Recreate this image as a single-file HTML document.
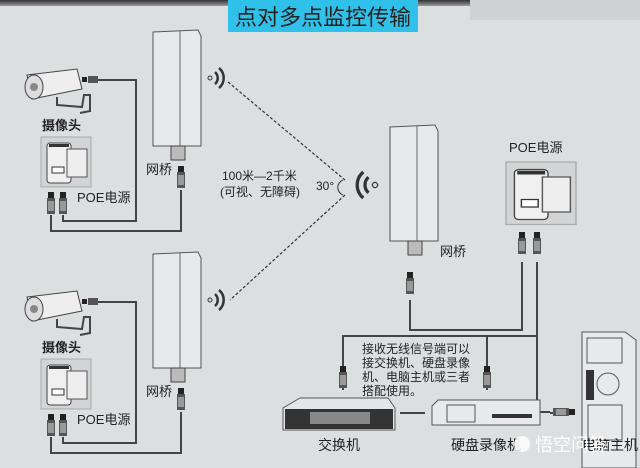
<!DOCTYPE html>
<html><head><meta charset="utf-8"><style>
body{margin:0;width:640px;height:468px;overflow:hidden;background:#dcdfe0;}
svg{display:block}
text{font-family:"Liberation Sans","Noto Sans CJK SC",sans-serif;fill:#222}
</style></head><body>
<svg width="640" height="468" viewBox="0 0 640 468" xmlns="http://www.w3.org/2000/svg">
<defs>
<linearGradient id="top" x1="0" y1="0" x2="0" y2="1"><stop offset="0" stop-color="#333"/><stop offset="1" stop-color="#9a9c9e"/></linearGradient>
<g id="plug"><rect x="-3" y="0" width="6" height="6" fill="#222"/><rect x="-4" y="6" width="8" height="16" fill="#555"/><rect x="-3" y="9" width="6" height="10" fill="#999"/></g>
<g id="bridge">
<path d="M0 2 L45 0 L48 6 L48 116 L0 116 Z" fill="#e8e9ea" stroke="#555" stroke-width="1"/>
<line x1="27" y1="1" x2="27" y2="116" stroke="#666"/>
<rect x="18" y="116" width="14" height="14" fill="#bbb" stroke="#444"/>
</g>
<g id="wifi" fill="none" stroke="#333" stroke-width="2.5"><circle cx="0" cy="0" r="2" stroke-width="1"/><path d="M5 -6 A8 8 0 0 1 5 6"/><path d="M9 -10 A13 13 0 0 1 9 10"/></g>
<g id="cam">
<path d="M5 8 L55 2 L60 22 L10 32 Z" fill="#eee" stroke="#444"/>
<ellipse cx="12" cy="20" rx="9" ry="12" fill="#ddd" stroke="#444"/>
<circle cx="12" cy="20" r="4" fill="#888"/>
<path d="M35 30 L35 38 L60 40 L62 28 L68 28 L68 44 L58 46" fill="none" stroke="#444" stroke-width="2"/>
<rect x="60" y="10" width="5" height="5" fill="#222"/><rect x="66" y="9" width="10" height="7" fill="#555"/>
</g>
<g id="poe">
<rect x="0" y="0" width="50" height="50" fill="#d2d4d5" stroke="#aaa"/>
<rect x="6" y="6" width="24" height="40" rx="3" fill="#f0f0f0" stroke="#444"/>
<rect x="8" y="7" width="20" height="3" fill="#333"/>
<rect x="26" y="12" width="20" height="28" fill="#eee" stroke="#555"/>
<rect x="11" y="30" width="12" height="6" fill="#fff" stroke="#333"/>
</g>
</defs>
<rect x="0" y="0" width="470" height="6" fill="url(#top)"/>
<rect x="470" y="0" width="170" height="20" fill="#cfd1d2"/>
<rect x="228" y="0" width="190" height="32" fill="#2fc1ea"/>
<text x="323" y="25" font-size="22" text-anchor="middle" fill="#1c2530">点对多点监控传输</text>

<g stroke="#444" stroke-width="2" fill="none">
<polyline points="95,80 136,80 136,221 63,221 63,215"/>
<polyline points="51,215 51,231 181,231 181,190"/>
</g>
<use href="#bridge" x="153" y="30"/>
<use href="#plug" x="181" y="166"/>
<use href="#cam" x="22" y="67"/>
<use href="#poe" x="41" y="137"/>
<use href="#plug" x="51" y="192"/><use href="#plug" x="63" y="192"/>
<text x="42" y="130" font-size="13" font-weight="bold">摄像头</text>
<text x="77" y="202" font-size="13">POE电源</text>
<text x="146" y="174" font-size="13">网桥</text>
<use href="#wifi" x="210" y="78"/>

<g stroke="#444" stroke-width="2" fill="none">
<polyline points="95,302 136,302 136,443 63,443 63,437"/>
<polyline points="51,437 51,453 181,453 181,412"/>
</g>
<use href="#bridge" x="153" y="252"/>
<use href="#plug" x="181" y="388"/>
<use href="#cam" x="22" y="289"/>
<use href="#poe" x="41" y="359"/>
<use href="#plug" x="51" y="414"/><use href="#plug" x="63" y="414"/>
<text x="42" y="352" font-size="13" font-weight="bold">摄像头</text>
<text x="77" y="424" font-size="13">POE电源</text>
<text x="146" y="396" font-size="13">网桥</text>
<use href="#wifi" x="210" y="300"/>

<g stroke="#333" stroke-width="1.2" stroke-dasharray="3,2">
<line x1="228" y1="82" x2="345" y2="180"/>
<line x1="345" y1="195" x2="230" y2="300"/>
</g>
<text x="222" y="180" font-size="12">100米—2千米</text>
<text x="220" y="196" font-size="12">(可视、无障碍)</text>
<text x="316" y="190" font-size="12">30°</text>
<path d="M343 180 A8 8 0 0 0 343 195" fill="none" stroke="#333"/>
<g transform="translate(375,185) scale(-1.3,1.3)"><use href="#wifi"/></g>

<g stroke="#444" stroke-width="2" fill="none">
<polyline points="410,300 410,330 522,330 522,262"/>
<polyline points="537,262 537,412 550,412"/>
<polyline points="343,390 343,336 537,336"/>
<line x1="487" y1="336" x2="487" y2="390"/>
<line x1="400" y1="413" x2="425" y2="413"/>
<line x1="550" y1="413" x2="575" y2="413"/>
</g>
<use href="#bridge" x="390" y="125"/>
<text x="440" y="256" font-size="13">网桥</text>
<use href="#plug" x="410" y="272"/>
<text x="509" y="152" font-size="13">POE电源</text>
<g transform="translate(506,162) scale(1.4,1.25)"><use href="#poe"/></g>
<use href="#plug" x="522" y="232"/><use href="#plug" x="537" y="232"/>
<use href="#plug" x="343" y="366"/><use href="#plug" x="487" y="366"/>
<g transform="translate(575,412) rotate(90)"><use href="#plug"/></g>

<text font-size="12" x="362"><tspan x="362" y="353">接收无线信号端可以</tspan><tspan x="362" y="367">接交换机、硬盘录像</tspan><tspan x="362" y="381">机、电脑主机或三者</tspan><tspan x="362" y="395">搭配使用。</tspan></text>

<path d="M283 408 L300 398 L388 398 L395 408 L395 430 L283 430 Z" fill="#e4e5e6" stroke="#555"/>
<rect x="285" y="409" width="108" height="20" fill="#333"/>
<rect x="310" y="412" width="60" height="12" fill="#888"/>
<path d="M432 406 L438 400 L540 400 L540 425 L432 425 Z" fill="#e8e9ea" stroke="#555"/>
<rect x="447" y="405" width="28" height="17" fill="none" stroke="#555"/>
<rect x="492" y="414" width="40" height="4" fill="#333"/>
<path d="M582 332 L625 332 L636 340 L636 468 L582 468 Z" fill="#e8e9ea" stroke="#555"/>
<rect x="587" y="338" width="35" height="25" fill="none" stroke="#555"/>
<rect x="586" y="370" width="8" height="30" fill="#333"/>
<circle cx="608" cy="384" r="11" fill="none" stroke="#555"/>
<rect x="588" y="405" width="34" height="35" fill="none" stroke="#555"/>

<text x="318" y="450" font-size="14">交换机</text>
<text x="451" y="450" font-size="14">硬盘录像机</text>
<text x="582" y="450" font-size="14">电脑主机</text>
<circle cx="522" cy="444" r="8" fill="#fff" opacity="0.85"/>
<text x="535" y="451" font-size="18" style="fill:#fff">悟空问答</text>
</svg>
</body></html>
